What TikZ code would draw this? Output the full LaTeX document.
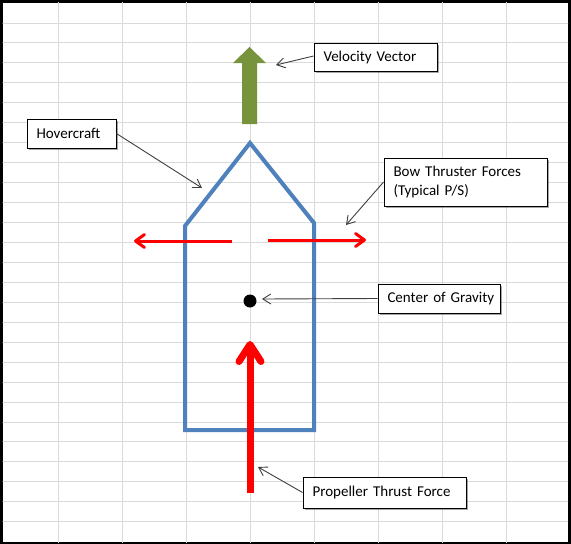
\documentclass[tikz,border=0pt]{standalone}
\usepackage{fontspec}
\setmainfont{Carlito}[WordSpace=0.6]
\usetikzlibrary{arrows.meta,shadows}
\definecolor{hullblue}{HTML}{4F81BD}
\definecolor{olivegreen}{HTML}{77933C}
\definecolor{gridgray}{HTML}{DADADA}
\definecolor{leadgray}{HTML}{404040}
\newcommand{\padtxt}{\hspace*{9.5pt}}
\tikzset{
  callout/.style={draw=black, line width=0.9pt, fill=white, rectangle,
    inner xsep=0pt, inner ysep=0pt, align=left,
    font=\fontsize{15}{19}\selectfont,
    drop shadow={shadow xshift=2.2pt, shadow yshift=-2.2pt, fill=black, opacity=0.35}},
  leader/.style={draw=leadgray, line width=0.9pt, -{Straight Barb[length=8pt,width=10pt]}},
  sidethrust/.style={draw=red, line width=3pt, -{Straight Barb[length=9pt,width=13pt,round]}},
  mainthrust/.style={draw=red, line width=7pt, -{Straight Barb[length=17pt,width=22pt,round]}},
  hull/.style={draw=hullblue, line width=4pt, line join=miter},
  gridline/.style={draw=gridgray, line width=1pt}
}
\begin{document}
\begin{tikzpicture}[x=1pt,y=-1pt]
\useasboundingbox (0,0) rectangle (571,544);
% frame
\fill[black] (0,0) rectangle (571,544);
\fill[white] (2.5,2.5) rectangle (568,542);
% grid
\begin{scope}
\clip (2.5,2.5) rectangle (568,542);
\foreach \i in {0,...,7} { \draw[gridline] (58+64*\i,0) -- (58+64*\i,544); }
\foreach \j in {0,...,25} { \draw[gridline] (0,23+19.95*\j) -- (571,23+19.95*\j); }
\end{scope}
% hull
\draw[hull] (185,430) -- (185,226) -- (250,143) -- (314,223) -- (314,430) -- cycle;
% velocity vector (block arrow)
\fill[olivegreen] (242,124) -- (242,63) -- (233,63) -- (249.5,47) -- (266,63) -- (257,63) -- (257,124) -- cycle;
% side thrusters
\coordinate (lthS) at (232,241);
\coordinate (lthE) at (134,241);
\coordinate (rthS) at (268,240);
\coordinate (rthE) at (366,240);
\draw[sidethrust] (lthS) -- (lthE);
\draw[sidethrust] (rthS) -- (rthE);
% propeller thrust
\coordinate (propS) at (250,493);
\coordinate (propE) at (250,341);
\draw[mainthrust] (propS) -- (propE);
% center of gravity
\node[circle, fill=black, minimum size=13pt, inner sep=0pt] (cg) at (250,301) {};
% callouts
\node[callout, minimum height=29pt, text width=89pt] (hc) at (71.5,133.5) {\padtxt Hovercraft};
\node[callout, minimum height=28pt, text width=123pt] (vv) at (375.5,57) {\padtxt Velocity Vector};
\node[callout, minimum height=48pt, text width=163pt] (bt) at (465.5,182) {\padtxt Bow Thruster Forces\\\padtxt (Typical P/S)};
\node[callout, minimum height=29pt, text width=122pt] (cgl) at (439,298.5) {\padtxt Center of Gravity};
\node[callout, minimum height=31pt, text width=163pt] (pt) at (384.5,492.5) {\padtxt Propeller Thrust Force};
% leader tips
\coordinate (hcT) at (202,188);
\coordinate (vvT) at (276,65);
\coordinate (btT) at (346,225);
\coordinate (cgT) at (262,299);
\coordinate (ptT) at (258,467);
\draw[leader] (hc.east) -- (hcT);
\draw[leader] ([yshift=1pt]vv.west) -- (vvT);
\draw[leader] (bt.west) -- (btT);
\draw[leader] (cgl.west) -- (cgT);
\draw[leader] (pt.west) -- (ptT);
\end{tikzpicture}
\end{document}
